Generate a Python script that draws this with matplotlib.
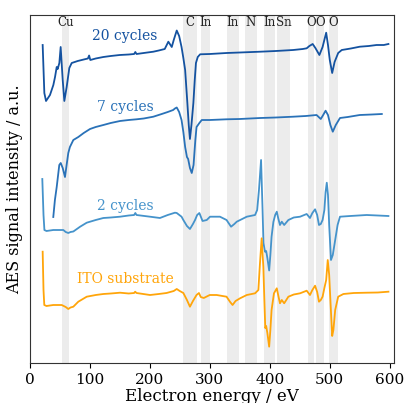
import numpy as np
import matplotlib
matplotlib.use("Agg")
import matplotlib.pyplot as plt

plt.rcParams['font.family'] = 'serif'
plt.rcParams['font.serif'] = ['DejaVu Serif']

# ---- data (x in eV, y in arbitrary units) ----
cycles20 = [(21.6,45),(24.4,93),(27.2,101),(33.8,95),(39.4,85),(42.2,77),(45,67),(46.6,69),(49.4,63),
            (51.6,47),(55,80),(57.7,101),(61.6,87),(66,68),(70,63),(80,61),(90,59.5),(97,58.5),(99,55.5),
            (101,60),(110,58.5),(122.7,57),(135,56),(150,55),(165,54.5),(174,54),(176,52),(178,54),(190,53),
            (206,51.7),(215,50.5),(225,49),(231,41.7),(236.7,47),(240,40),(245,30.5),(249,36),(253,47),
            (256,58),(259,70),(262.7,103),(265,125),(267,139),(269.5,125),(272.7,103),(275,80),(277,63),
            (280,57),(284,54.3),(300,54),(328,53),(350,52.5),(384,51.7),(410,51),(439,50),(455,49),
            (461.5,48.3),(466,46),(471.5,44),(476,48),(482.7,55),(488,47),(494,32.7),(497,45),(500,60),
            (504,73),(508,62),(514,53),(520,50),(535,48.5),(550,46.7),(565,46),(578,45),(590,45),(597.7,44)]

cycles7 = [(39.3,217),(42,200),(45,187),(49.3,165),(51.7,163),(55,168),(58.8,177),(61.5,165),(64.3,153),
           (67,147),(72.7,140),(81,137),(90,133),(100.5,129),(110,127),(122.7,125),(135,123),(150.5,121),
           (165,120),(178,119.3),(190,118.5),(206,116.7),(220,114),(230,112),(239,110),(242,108.5),
           (245,107.5),(249,112),(253,120),(256,132),(259,147),(262,157),(264,159),(267,168),(270,173),
           (273,165),(276,140),(278,127),(282.7,123),(286.7,120),(300,120),(328,119.3),(350,119),(384,118),
           (410,117.5),(439,116.7),(460,116),(478,115),(485,119),(489,115),(493,110.7),(497,115),(501,125),
           (505,131.7),(510,125),(517,118),(530,117),(550,115),(570,114.5),(586.7,114)]

cycles2 = [(21,179),(23,215),(24.5,230),(28,231),(39.3,230),(50,230),(56,230),(60,232),(64.3,233),(68,232),
           (72.7,231.5),(84,226.7),(95,222.7),(110,220),(122.7,218),(135,217.5),(150.5,216.7),(165,215.5),
           (174,215),(176,213),(178,215),(200.5,216.7),(217,218),(230,215),(242,212.7),(245,213),(253,216.7),
           (256,220),(262,226),(267,229),(272,224),(275.5,220),(279,215),(282.7,213),(288,221),(295,220),
           (300.5,216.7),(317,216.7),(328,220),(335.5,226.7),(341,224),(345,221.7),(361.7,216.7),
           (375.5,215),(379,210),(382,190),(385.5,160),(388,210),(389.5,243),(392,251.7),(394,251),
           (396,258),(399,270.5),(401,255),(403,236.7),(406,222),(409,215),(411.7,211.7),(414,218),
           (417,225),(420,221.7),(424,225),(431,220),(440,217.5),(450.5,216.7),(461.5,214),(467,218),
           (471,213),(475.5,209.3),(479,215),(482,225),(485,224),(488,220),(491,210),(493,192),
           (495,182.7),(497,195),(499,225),(502,260),(505,255),(509,240),(513,225),(517,216.7),
           (534,216),(561.5,215),(580,215.5),(597.7,216)]

ito = [(21.6,251.7),(23,290),(24.3,305),(28,306),(39.3,305),(53.3,305),(60,307),(64.3,309),(68,307.5),
       (72.7,306.7),(81,301.7),(95,296.7),(110,295),(122.7,294),(135,293.5),(150.5,292.7),(165,293.5),
       (174,293),(175.7,291.7),(178,293),(200.5,295),(215,294),(228,293),(240,291),(245,289),(250,291),
       (256,293),(262,300),(267,306.7),(272,301),(278,295),(282,293),(285,297),(290,298),(300,295),
       (311.5,295),(328,296.7),(334,302),(338,305),(343,301),(350.5,298.3),(361.7,295),(375.5,293.3),
       (381,290),(383.5,265),(386.5,238.3),(389.3,266.7),(391,300),(392.5,328),(394,326),(396,333),
       (399,346.7),(401,330),(403,310),(407,293.3),(411.7,288.3),(414,295),(417,303.3),(420,300),
       (424,303.3),(431,296.7),(440,294.5),(450.5,293.3),(461.5,290.7),(467,295),(471,290),(475.5,285.7),
       (479,292),(482,301.7),(485,300),(488,296.7),(491,288),(494,280),(496.6,260),(499,275),(501,300),
       (504,336),(506,330),(509,310),(514,296.7),(522.7,294),(540,293),(561.5,292.7),(580,292.5),
       (597.7,291.7)]

band_lo = [53, 255, 286, 328, 359, 391, 412, 464, 477, 498]
band_hi = [66, 278, 300, 348, 378, 408, 434, 474, 490, 513]
band_labels = ['Cu', 'C', 'In', 'In', 'N', 'In', 'Sn', 'O', 'O', 'O']

series_names = ['20 cycles', '7 cycles', '2 cycles', 'ITO substrate']

# ---- plotting ----
fig = plt.figure(figsize=(4.04, 4.03), dpi=100)
ax = fig.add_axes([29.7/404, 40/403, (394-29.7)/404, (363-15)/403])

TOP = 363
colors = ['#1452a0', '#2a72b8', '#4593cb', '#ffa50a']
series = [cycles20, cycles7, cycles2, ito]

for lo, hi, lab in zip(band_lo, band_hi, band_labels):
    ax.axvspan(lo, hi, color='#ececec', lw=0, zorder=0)
    ax.text((lo + hi) / 2, TOP - 23, lab, ha='center', va='center', fontsize=8.5, color='#222222')

label_y = [36, 107.5, 206, 279]
for s, c, name, ly in zip(series, colors, series_names, label_y):
    arr = np.array(s, dtype=float)
    ax.plot(arr[:, 0], TOP - arr[:, 1], color=c, lw=1.3, zorder=2)
    ax.text(159, TOP - ly, name, color=c, ha='center', va='center', fontsize=10)

ax.set_xlim(0, 607)
ax.set_ylim(0, 348)
ax.set_xticks([0, 100, 200, 300, 400, 500, 600])
ax.set_yticks([])
ax.tick_params(axis='x', labelsize=11)
ax.set_xlabel('Electron energy / eV', fontsize=12, labelpad=1)
ax.set_ylabel('AES signal intensity / a.u.', fontsize=11.5, labelpad=5)
for sp in ax.spines.values():
    sp.set_color('#333333')

fig.savefig('out.png', dpi=100)
